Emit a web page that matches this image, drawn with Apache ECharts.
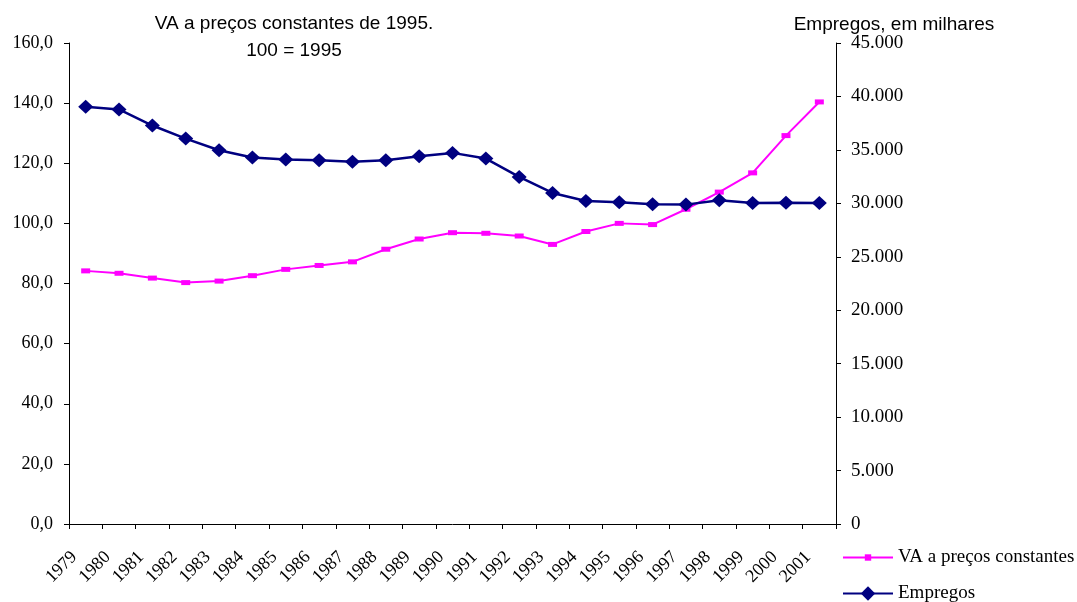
<!DOCTYPE html>
<html>
<head>
<meta charset="utf-8">
<script src="https://cdn.jsdelivr.net/npm/echarts@6/dist/echarts.min.js"></script>
<style>
  html, body { margin: 0; padding: 0; background: #fff; }
  #chart { width: 1077px; height: 602px; }
</style>
</head>
<body>
<div id="chart"></div>
<script>
// anos
var anos = ['1979', '1980', '1981', '1982', '1983', '1984', '1985', '1986', '1987', '1988', '1989', '1990',
  '1991', '1992', '1993', '1994', '1995', '1996', '1997', '1998', '1999', '2000', '2001']
// VA a preços constantes, 100 = 1995
var vaPrecos = [84.2, 83.4, 81.8, 80.3, 80.8, 82.6, 84.7, 86.0, 87.2, 91.4, 94.8, 96.9,
  96.7, 95.8, 93.0, 97.3, 100.0, 99.6, 104.7, 110.4, 116.8, 129.2, 140.4]
// Empregos, em milhares
var empregos = [39030, 38780, 37280, 36060, 34970, 34280, 34090, 34030, 33880, 34030, 34410, 34720,
  34190, 32470, 30970, 30220, 30090, 29910, 29880, 30280, 30030, 30060, 30030]

var serif = '"Liberation Serif", "Times New Roman", serif'
var sans = '"Liberation Sans", Arial, sans-serif'

function fmtVA (v) { return v.toFixed(1).replace('.', ',') }
function fmtEmp (v) { return String(v).replace(/\B(?=(\d{3})+(?!\d))/g, '.') }

var chart = echarts.init(document.getElementById('chart'))
chart.setOption({
  animation: false,
  backgroundColor: '#fff',
  title: [
    {
      text: 'VA a preços constantes de 1995.\n100 = 1995',
      left: 289, top: 5, textAlign: 'center',
      textStyle: { fontFamily: sans, fontSize: 19, fontWeight: 'normal', color: '#000', lineHeight: 27 }
    },
    {
      text: 'Empregos, em milhares',
      left: 889, top: 10, textAlign: 'center',
      textStyle: { fontFamily: sans, fontSize: 19, fontWeight: 'normal', color: '#000' }
    }
  ],
  legend: [
    {
      left: 842, top: 548, padding: 0,
      itemWidth: 50, itemHeight: 8,
      textStyle: { fontFamily: serif, fontSize: 19, color: '#000' },
      data: ['VA a preços constantes']
    },
    {
      left: 842, top: 584, padding: 0,
      itemWidth: 50, itemHeight: 18,
      textStyle: { fontFamily: serif, fontSize: 19, color: '#000' },
      data: ['Empregos']
    }
  ],
  grid: { left: 69, right: 241, top: 43, bottom: 78 },
  xAxis: {
    type: 'category',
    data: anos,
    boundaryGap: true,
    axisLine: { show: true, lineStyle: { color: '#000', width: 1 } },
    axisTick: { show: true, length: 5, lineStyle: { color: '#000' } },
    axisLabel: {
      rotate: 45, margin: 19, interval: 0, padding: [0, 16, 0, 0],
      fontFamily: serif, fontSize: 18, color: '#000'
    }
  },
  yAxis: [
    {
      type: 'value', min: 0, max: 160, interval: 20,
      axisLine: { show: true, lineStyle: { color: '#000' } },
      axisTick: { show: true, length: 5, lineStyle: { color: '#000' } },
      splitLine: { show: false },
      axisLabel: { margin: 16, fontFamily: serif, fontSize: 18, color: '#000', formatter: fmtVA }
    },
    {
      type: 'value', min: 0, max: 45000, interval: 5000, position: 'right',
      axisLine: { show: true, lineStyle: { color: '#000' } },
      axisTick: { show: true, length: 5, lineStyle: { color: '#000' } },
      splitLine: { show: false },
      axisLabel: { margin: 15, fontFamily: serif, fontSize: 19, color: '#000', formatter: fmtEmp }
    }
  ],
  series: [
    {
      name: 'VA a preços constantes',
      type: 'line',
      yAxisIndex: 0,
      data: vaPrecos,
      color: '#FF00FF',
      lineStyle: { width: 2, color: '#FF00FF' },
      symbol: 'rect', symbolSize: [9, 5],
      itemStyle: { color: '#FF00FF' }
    },
    {
      name: 'Empregos',
      type: 'line',
      yAxisIndex: 1,
      data: empregos,
      color: '#000080',
      lineStyle: { width: 2.5, color: '#000080' },
      symbol: 'diamond', symbolSize: [15, 14],
      itemStyle: { color: '#000080' }
    }
  ]
})
</script>
</body>
</html>
